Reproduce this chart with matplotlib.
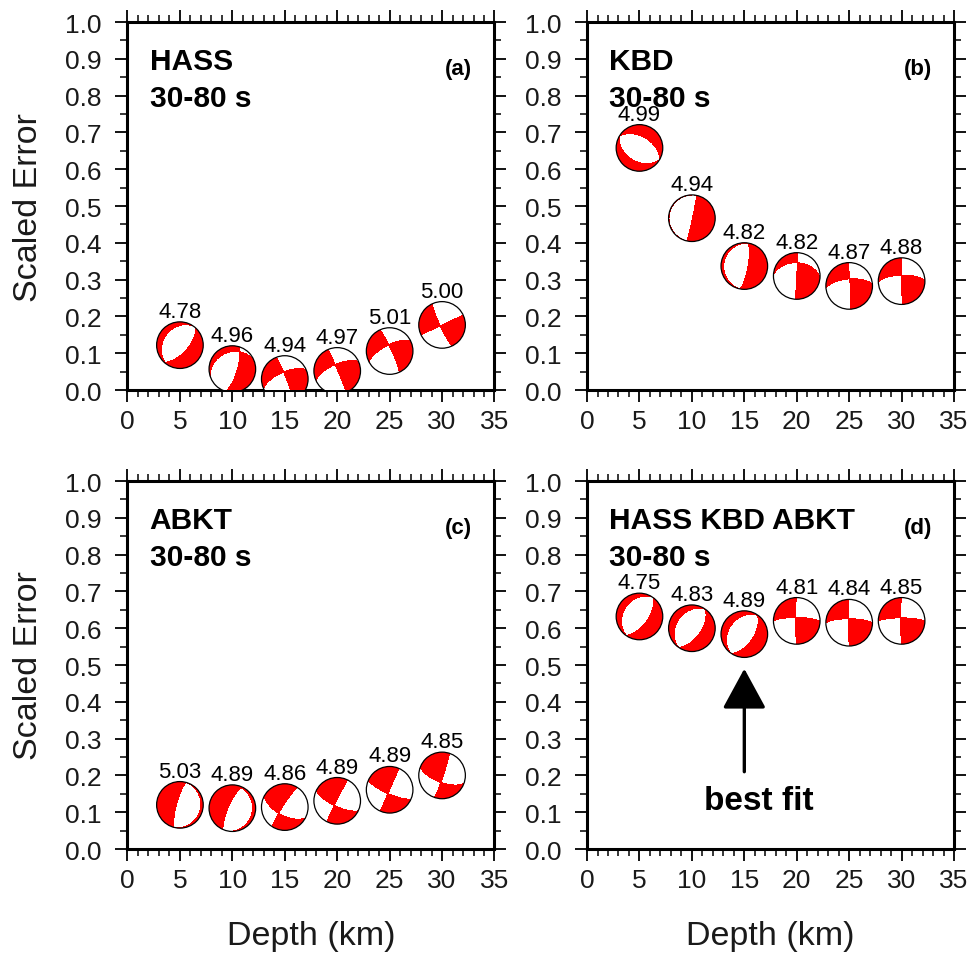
import numpy as np
import matplotlib
matplotlib.use("Agg")
import matplotlib.pyplot as plt
import matplotlib.transforms as mtransforms
from matplotlib.patches import Circle
from matplotlib.ticker import MultipleLocator

plt.rcParams['font.family'] = ['Liberation Sans', 'DejaVu Sans']

depth = [5, 10, 15, 20, 25, 30]

# (a) HASS
err_hass = [0.122, 0.057, 0.030, 0.052, 0.106, 0.177]
mw_hass = ['4.78', '4.96', '4.94', '4.97', '5.01', '5.00']
t_hass = [(130, 15), (123, 25), (110, 13), (110, 15), (108, 10), (110, 5)]
p_hass = [(320, 70), (258, 57), (205, 21), (203, 18), (200, 20), (20, 5)]

# (b) KBD
err_kbd = [0.658, 0.467, 0.337, 0.310, 0.283, 0.296]
mw_kbd = ['4.99', '4.94', '4.82', '4.82', '4.87', '4.88']
t_kbd = [(30, 3), (102, 43), (100, 32), (128, 32), (130, 15), (132, 15)]
p_kbd = [(210, 85), (282, 47), (280, 58), (238, 32), (222, 20), (225, 15)]

# (c) ABKT
err_abkt = [0.120, 0.111, 0.114, 0.131, 0.161, 0.200]
mw_abkt = ['5.03', '4.89', '4.86', '4.89', '4.89', '4.85']
t_abkt = [(285, 33), (290, 30), (342, 15), (340, 12), (337, 10), (332, 20)]
p_abkt = [(105, 57), (120, 58), (79, 26), (72, 15), (70, 10), (67, 14)]

# (d) all three stations
err_all = [0.632, 0.600, 0.584, 0.620, 0.615, 0.620]
mw_all = ['4.75', '4.83', '4.89', '4.81', '4.84', '4.85']
t_all = [(125, 15), (125, 10), (125, 10), (135, 12), (135, 12), (135, 10)]
p_all = [(310, 75), (305, 75), (300, 75), (225, 5), (225, 8), (225, 5)]

panels = [
    ('HASS', '(a)', err_hass, mw_hass, t_hass, p_hass),
    ('KBD', '(b)', err_kbd, mw_kbd, t_kbd, p_kbd),
    ('ABKT', '(c)', err_abkt, mw_abkt, t_abkt, p_abkt),
    ('HASS KBD ABKT', '(d)', err_all, mw_all, t_all, p_all),
]

# lower hemisphere, equal-area grid on the unit disk
g = np.linspace(-1, 1, 241)
GX, GY = np.meshgrid(g, g)
GR = np.clip(np.hypot(GX, GY), 0, 1)
INC = 2 * np.arcsin(GR / np.sqrt(2))
AZ = np.arctan2(GX, GY)
RAY = np.stack([np.sin(INC) * np.cos(AZ), np.sin(INC) * np.sin(AZ), np.cos(INC)])


def axis_vec(trend, plunge):
    tr, pl = np.radians(trend), np.radians(plunge)
    return np.array([np.cos(pl) * np.cos(tr), np.cos(pl) * np.sin(tr), np.sin(pl)])


def beachball(ax, x, y, t_ax, p_ax, label, r=0.233):
    trans = ax.figure.dpi_scale_trans + mtransforms.ScaledTranslation(x, y, ax.transData)
    t = axis_vec(*t_ax)
    p = axis_vec(*p_ax)
    amp = np.tensordot(t, RAY, 1) ** 2 - np.tensordot(p, RAY, 1) ** 2
    bg = Circle((0, 0), r, transform=trans, fc='white', ec='none', zorder=3)
    ax.add_patch(bg)
    cs = ax.contourf(GX * r, GY * r, amp, levels=[0, 10], colors=['#ff0000'],
                     transform=trans, zorder=4)
    cs.set_clip_path(bg)
    ax.add_patch(Circle((0, 0), r, transform=trans, fc='none', ec='black',
                        lw=0.9, zorder=5))
    ax.annotate(label, (x, y), xytext=(0, r * 72 + 3.6), textcoords='offset points',
                ha='center', va='baseline', fontsize=16, zorder=6)


fig = plt.figure(figsize=(9.74, 9.54), dpi=100)
lefts = [0.1309, 0.6027, 0.1309, 0.6027]
bottoms = [0.5901, 0.5901, 0.1090, 0.1090]

for i, (name, tag, err, mw, tax, pax) in enumerate(panels):
    ax = fig.add_axes([lefts[i], bottoms[i], 0.3768, 0.3857])
    ax.set_xlim(0, 35)
    ax.set_ylim(0, 1)
    ax.xaxis.set_major_locator(MultipleLocator(5))
    ax.xaxis.set_minor_locator(MultipleLocator(1))
    ax.yaxis.set_major_locator(MultipleLocator(0.1))
    ax.yaxis.set_minor_locator(MultipleLocator(0.05))
    ax.yaxis.set_major_formatter(lambda v, pos: f'{v:.1f}')
    ax.tick_params(which='both', direction='out', top=True, right=True, colors='black')
    ax.tick_params(which='major', length=8.5, width=1.3, labelsize=19, labelcolor='#1a1a1a')
    ax.tick_params(axis='x', which='major', pad=5)
    ax.tick_params(axis='y', which='major', pad=10)
    ax.tick_params(which='minor', length=5, width=1.1)
    for s in ax.spines.values():
        s.set_linewidth(2.2)

    for d, e, m, ta, pa in zip(depth, err, mw, tax, pax):
        beachball(ax, d, e, ta, pa, m)

    ax.text(2.1, 0.872, name, fontsize=21.5, fontweight='bold', va='baseline')
    ax.text(2.1, 0.773, '30-80 s', fontsize=21.5, fontweight='bold', va='baseline')
    ax.text(32.9, 0.875, tag, fontsize=16, fontweight='bold', ha='right', va='center')

    if i % 2 == 0:
        ax.set_ylabel('Scaled Error', fontsize=24.5, labelpad=15, color='#1a1a1a')
    if i >= 2:
        ax.set_xlabel('Depth (km)', fontsize=24.5, labelpad=20, color='#1a1a1a')

    if i == 3:
        ax.annotate('', xy=(15, 0.49), xytext=(15, 0.21),
                    arrowprops=dict(arrowstyle='-|>,head_length=1.25,head_width=0.68',
                                    mutation_scale=20, lw=2.4, color='black',
                                    shrinkA=0, shrinkB=0))
        ax.text(16.35, 0.131, 'best fit', fontsize=24, fontweight='bold',
                ha='center', va='center')

fig.savefig('out.png', dpi=100)
